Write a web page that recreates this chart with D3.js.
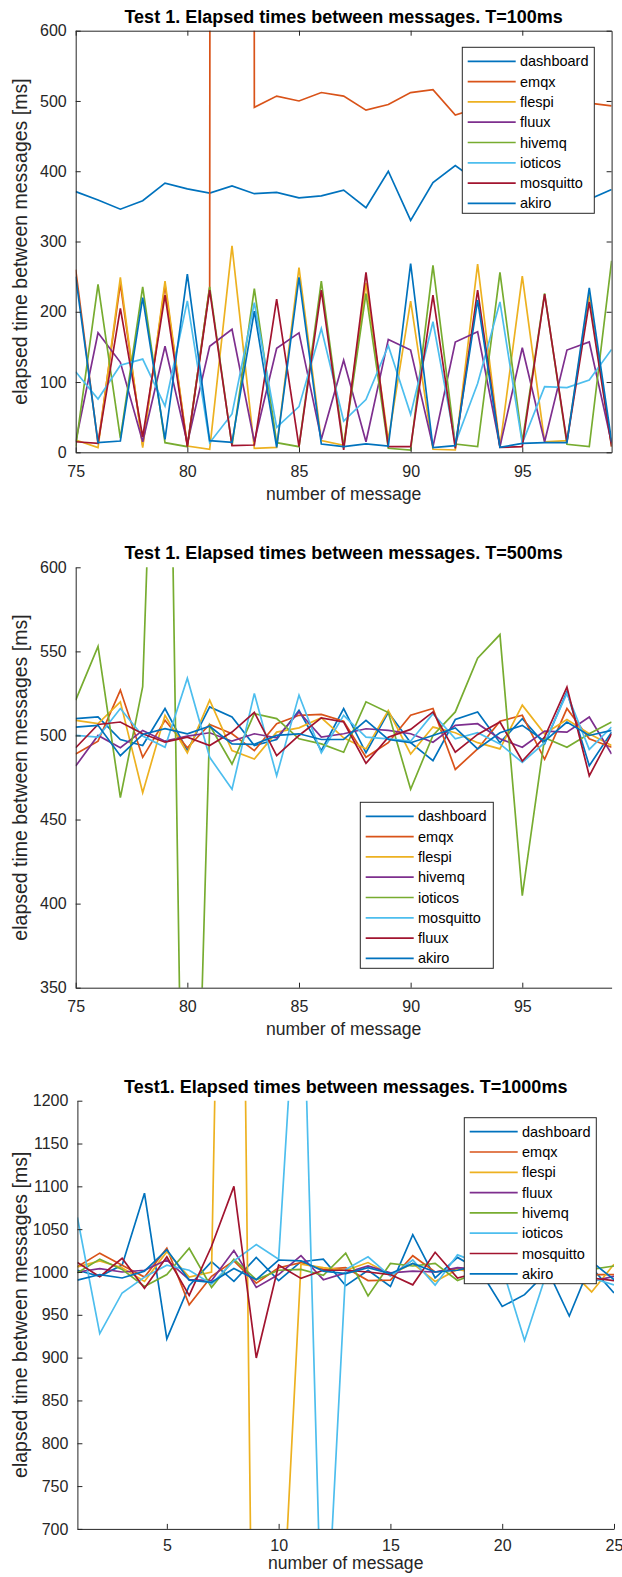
<!DOCTYPE html>
<html>
<head>
<meta charset="utf-8">
<script src="https://cdn.jsdelivr.net/npm/d3@7"></script>
<style>
  body { margin: 0; background: #fff; }
  svg { display: block; }
  text { font-family: "Liberation Sans", Arial, Helvetica, sans-serif; }
</style>
</head>
<body>
<div id="chart"></div>
<script>
const WIDTH = 622;
const HEIGHT = 1577;

// MATLAB default line colours, in plotting order
const colors = ["#0072BD", "#D95319", "#EDB120", "#7E2F8E", "#77AC30", "#4DBEEE", "#A2142F", "#0072BD"];

// ---- Test 1, T=100ms ----
const msgIds100 = [75, 76, 77, 78, 79, 80, 81, 82, 83, 84, 85, 86, 87, 88, 89, 90, 91, 92, 93, 94, 95, 96, 97, 98, 99];
const names100 = ["dashboard", "emqx", "flespi", "fluux", "hivemq", "ioticos", "mosquitto", "akiro"];
const dashboard100 = [371, 359, 346, 358, 383, 375, 369, 379, 368, 370, 362, 365, 373, 348, 400, 330, 384, 408, 385, 372, 390, 366, 378, 360, 374];
const emqx100 = [260, 12, 240, 10, 238, 9, 235, 40000, 491, 507, 500, 512, 507, 487, 495, 512, 516, 480, 490, 505, 498, 508, 500, 497, 493];
const flespi100 = [17.5, 6.6, 249, 6.6, 243.6, 9, 4.3, 293.8, 5.7, 7, 263, 16.6, 10, 241, 17.5, 215, 4.3, 3.3, 267.8, 8, 250.7, 15, 16.6, 224.6, 8];
const fluux100 = [15, 170, 128, 15, 151, 12.8, 151, 175, 15, 148, 170, 18.5, 131, 15, 160.7, 145.5, 8, 157, 171.6, 8, 148.8, 15, 145.5, 157, 12.8];
const hivemq100 = [8, 239, 20, 235.5, 13.7, 8, 235.5, 9, 233, 13.7, 8, 243.6, 8, 226, 5.7, 3.3, 266, 11.8, 8, 256, 15, 226, 11.4, 8, 272.5];
const ioticos100 = [114.7, 75.8, 124, 132.7, 65.9, 215.6, 13.7, 54.5, 212.8, 35.5, 65, 176, 44.5, 75, 151.7, 54, 185.8, 12.8, 98, 214, 12.8, 93.4, 92, 102.8, 146.4];
const mosquitto100 = [15, 12.8, 204.7, 22, 223.7, 8, 230.8, 9.5, 10.4, 218, 8, 230.8, 3.3, 256, 8, 8, 223.7, 5.7, 230.8, 7, 8, 225, 15, 214, 8];
const akiro100 = [250, 13.7, 16, 220, 18.5, 253.6, 16.6, 14.2, 201, 7, 248.8, 11.8, 8, 12, 9, 268.7, 6.6, 9.5, 216.6, 7, 12.8, 13.7, 13.7, 234, 15];
const yTicks100 = [0, 100, 200, 300, 400, 500, 600];

// ---- Test 1, T=500ms ----
const msgIds500 = [75, 76, 77, 78, 79, 80, 81, 82, 83, 84, 85, 86, 87, 88, 89, 90, 91, 92, 93, 94, 95, 96, 97, 98, 99];
const names500 = ["dashboard", "emqx", "flespi", "hivemq", "ioticos", "mosquitto", "fluux", "akiro"];
const dashboard500 = [510, 511, 497.6, 494, 516, 491, 517, 511, 494, 497.6, 515, 491, 516, 489.7, 513.8, 495.7, 485, 509.5, 514, 495.7, 510, 495, 526, 482, 502];
const emqx500 = [489, 496.6, 527, 487, 509, 492.7, 506.5, 501, 491, 507, 512, 512.5, 508.5, 487, 495.7, 512, 516, 479.8, 492, 508.5, 512, 485.8, 516, 498, 493];
const flespi500 = [509, 507, 520, 466, 512, 489.7, 521, 491, 486, 502, 504.5, 510.5, 498.6, 492, 514.8, 489, 505, 501.6, 495.7, 492, 518, 501, 509.5, 501, 494];
const hivemq500 = [481.8, 500, 492.7, 503, 496.6, 499.6, 501.6, 496.6, 501, 498.6, 514, 499, 501, 504, 503, 501, 496, 506, 507, 498, 493, 502.6, 502, 511, 489];
const ioticos500 = [521, 553, 463, 529, 916, 40, 506, 483, 513, 510, 498, 495, 490, 520, 513.6, 468, 500, 514, 546, 560, 404.7, 498.6, 493, 501, 508];
const mosquitto500 = [500, 499, 516, 499.6, 493, 534, 487, 468, 525, 476, 524, 489.7, 512, 499, 498, 496.6, 513, 498, 501.6, 495, 484, 495.7, 525, 491.7, 505];
const fluux500 = [492.7, 506.5, 508, 501, 496, 499, 494, 502, 513.8, 488, 500, 510.5, 508, 483.4, 499, 503.6, 514, 490, 500.6, 508, 484.8, 499, 528.8, 476, 501];
const akiro500 = [505, 506, 488, 500.6, 504, 501, 505.5, 495, 494.7, 500, 501, 497.6, 497.6, 509, 497.6, 495.7, 500, 504.5, 492, 501.6, 506, 496.6, 508, 500, 503];
const yTicks500 = [350, 400, 450, 500, 550, 600];

// ---- Test1, T=1000ms ----
const msgIds1000 = [1, 2, 3, 4, 5, 6, 7, 8, 9, 10, 11, 12, 13, 14, 15, 16, 17, 18, 19, 20, 21, 22, 23, 24, 25];
const names1000 = ["dashboard", "emqx", "flespi", "fluux", "hivemq", "ioticos", "mosquitto", "akiro"];
const dashboard1000 = [1002, 995, 1008, 1092, 922, 984, 1012, 989, 1017, 990, 1012, 1015, 984, 1002, 983, 1043.5, 993, 1017, 1002, 959.7, 973.5, 1000, 1010, 1005, 975.5];
const emqx1000 = [1006, 1022, 1008, 994, 1027.7, 961.7, 995, 1013, 987, 1005, 1011, 1003, 1005, 990, 990.5, 1019, 1000, 1004, 1000, 998, 1003, 997, 1000, 997, 997];
const flespi1000 = [1006, 1013, 1005, 989, 1023.7, 994, 1000, 2400, 100, 500, 1009, 1005, 1002, 1011, 997, 1010, 989, 1003, 998, 1005, 1000, 996, 1003, 976.7, 1009];
const fluux1000 = [1000, 1004, 1000, 1002, 1014, 991, 990, 1025, 982, 997, 1019, 991, 999, 1007, 999, 1001, 1000, 1005, 1003, 998, 996, 1001, 995, 989, 995];
const hivemq1000 = [999, 1015, 1003, 983, 997, 1027.7, 982, 1015, 991, 1002, 1003, 996, 1022, 972, 1010, 1007, 1010, 990, 1000, 996, 1004, 1008, 1000, 1003, 1007];
const ioticos1000 = [1063.6, 928, 975.5, 994, 1008, 1002, 986, 1013, 1032, 1015, 1440, 500, 1003, 1017.8, 995, 1014, 984.6, 1020, 1010, 1005, 920, 1000, 995, 993, 985];
const mosquitto1000 = [1011, 994.5, 1016, 981, 1017.8, 972.7, 1030, 1100, 899.6, 1008, 992.5, 1002, 1002, 1000, 997, 985, 1023, 993, 1000, 1004, 998, 1002, 995, 993, 990];
const akiro1000 = [990.5, 997, 993, 1001, 1026, 990.5, 988, 1004, 991, 1014, 1013, 1001, 998, 1005, 998, 1010, 1000, 1002, 1008, 1012, 995, 1004, 948.6, 1012, 991];
const yTicks1000 = [700, 750, 800, 850, 900, 950, 1000, 1050, 1100, 1150, 1200];

const panels = [
  {
    title: "Test 1. Elapsed times between messages. T=100ms",
    ids: msgIds100, names: names100,
    series: [dashboard100, emqx100, flespi100, fluux100, hivemq100, ioticos100, mosquitto100, akiro100],
    xDomain: [75, 99], yDomain: [0, 600], xTicks: [75, 80, 85, 90, 95], yTicks: yTicks100,
    box: { left: 75.7, right: 611.6, top: 30.7, bottom: 452.3 },
    boxOn: true, tickPad: 13.6, xlabelOff: 47.5,
    legend: { x: 462.3, y: 47.3, w: 132, h: 166 }
  },
  {
    title: "Test 1. Elapsed times between messages. T=500ms",
    ids: msgIds500, names: names500,
    series: [dashboard500, emqx500, flespi500, hivemq500, ioticos500, mosquitto500, fluux500, akiro500],
    xDomain: [75, 99], yDomain: [350, 600], xTicks: [75, 80, 85, 90, 95], yTicks: yTicks500,
    box: { left: 75.7, right: 611.6, top: 567.3, bottom: 987.7 },
    boxOn: false, tickPad: 13, xlabelOff: 47,
    legend: { x: 360.3, y: 802.3, w: 133, h: 166 }
  },
  {
    title: "Test1. Elapsed times between messages. T=1000ms",
    ids: msgIds1000, names: names1000,
    series: [dashboard1000, emqx1000, flespi1000, fluux1000, hivemq1000, ioticos1000, mosquitto1000, akiro1000],
    xDomain: [1, 25], yDomain: [700, 1200], xTicks: [5, 10, 15, 20, 25], yTicks: yTicks1000,
    box: { left: 77.4, right: 614, top: 1100.7, bottom: 1528.9 },
    boxOn: false, tickPad: 10.5, xlabelOff: 40,
    legend: { x: 464.3, y: 1117.7, w: 132, h: 166 }
  }
];

const svg = d3.select("#chart")
  .append("svg")
  .attr("width", WIDTH)
  .attr("height", HEIGHT)
  .attr("viewBox", [0, 0, WIDTH, HEIGHT]);

const AXIS = "#262626";

panels.forEach((p, i) => {
  const b = p.box;
  const x = d3.scaleLinear().domain(p.xDomain).range([b.left, b.right]);
  const y = d3.scaleLinear().domain(p.yDomain).range([b.bottom, b.top]);

  svg.append("defs").append("clipPath")
      .attr("id", "clip" + i)
    .append("rect")
      .attr("x", b.left).attr("y", b.top)
      .attr("width", b.right - b.left).attr("height", b.bottom - b.top);

  // lines
  const line = d3.line()
    .x((d, j) => x(p.ids[j]))
    .y(d => y(d));

  const g = svg.append("g").attr("clip-path", `url(#clip${i})`);
  p.series.forEach((s, k) => {
    g.append("path")
      .datum(s)
      .attr("fill", "none")
      .attr("stroke", colors[k])
      .attr("stroke-width", 1.7)
      .attr("d", line);
  });

  // axes (ticks point inward, like MATLAB)
  const xAxis = svg.append("g")
    .attr("transform", `translate(0,${b.bottom})`)
    .call(d3.axisBottom(x).tickValues(p.xTicks).tickFormat(d3.format("d"))
      .tickSizeInner(-5).tickSizeOuter(0).tickPadding(p.tickPad));
  const yAxis = svg.append("g")
    .attr("transform", `translate(${b.left},0)`)
    .call(d3.axisLeft(y).tickValues(p.yTicks).tickFormat(d3.format("d"))
      .tickSizeInner(-5).tickSizeOuter(0).tickPadding(9));

  [xAxis, yAxis].forEach(a => {
    a.select(".domain").attr("stroke", AXIS).attr("stroke-width", 1);
    a.selectAll(".tick line").attr("stroke", AXIS).attr("stroke-width", 1);
    a.selectAll(".tick text")
      .attr("fill", AXIS)
      .style("font-size", "16px")
      .style("font-family", '"Liberation Sans", Arial, sans-serif');
  });

  if (p.boxOn) {
    svg.append("g")
      .attr("transform", `translate(0,${b.top})`)
      .call(d3.axisTop(x).tickValues(p.xTicks).tickSizeInner(-5).tickSizeOuter(0).tickFormat(""))
      .call(a => a.selectAll("line,path").attr("stroke", AXIS));
    svg.append("g")
      .attr("transform", `translate(${b.right},0)`)
      .call(d3.axisRight(y).tickValues(p.yTicks).tickSizeInner(-5).tickSizeOuter(0).tickFormat(""))
      .call(a => a.selectAll("line,path").attr("stroke", AXIS));
  }

  // title
  svg.append("text")
    .attr("x", (b.left + b.right) / 2)
    .attr("y", b.top - 8)
    .attr("text-anchor", "middle")
    .attr("font-weight", "bold")
    .attr("font-size", 18)
    .attr("fill", "#000")
    .text(p.title);

  // x label
  svg.append("text")
    .attr("x", (b.left + b.right) / 2)
    .attr("y", b.bottom + p.xlabelOff)
    .attr("text-anchor", "middle")
    .attr("font-size", 17.6)
    .attr("fill", AXIS)
    .text("number of message");

  // y label
  svg.append("text")
    .attr("transform", `translate(27,${(b.top + b.bottom) / 2}) rotate(-90)`)
    .attr("text-anchor", "middle")
    .attr("font-size", 19.5)
    .attr("fill", AXIS)
    .text("elapsed time between messages [ms]");

  // legend
  const L = p.legend;
  const lg = svg.append("g").attr("transform", `translate(${L.x},${L.y})`);
  lg.append("rect")
    .attr("width", L.w).attr("height", L.h)
    .attr("fill", "#fff")
    .attr("stroke", AXIS)
    .attr("stroke-width", 1);
  p.names.forEach((n, k) => {
    const yy = 14 + k * 20.3;
    lg.append("line")
      .attr("x1", 5.4).attr("x2", 53.4)
      .attr("y1", yy).attr("y2", yy)
      .attr("stroke", colors[k])
      .attr("stroke-width", 1.7);
    lg.append("text")
      .attr("x", 57.7)
      .attr("y", yy)
      .attr("dy", "0.35em")
      .attr("font-size", 14.5)
      .attr("fill", "#000")
      .text(n);
  });
});
</script>
</body>
</html>
